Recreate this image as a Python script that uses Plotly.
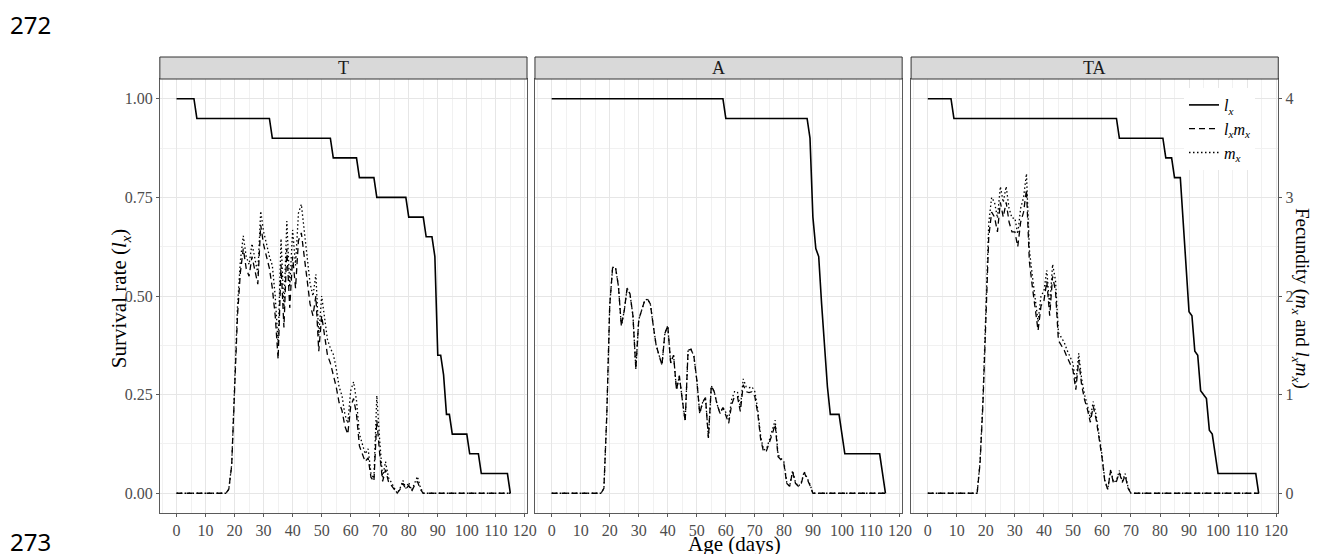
import plotly.graph_objects as go

SERIF = "Liberation Serif"
OFF = 8                      # page body offset of the plot div
W, H = 1325 - OFF, 555 - OFF - 1


def fx(X):
    return (X - OFF) / W


def fy(Y):
    return 1 - (Y - OFF) / H


panel_names = ["T", "A", "TA"]
age_ticks = list(range(0, 121, 10))
surv_ticks = [0.00, 0.25, 0.50, 0.75, 1.00]
fec_ticks = [0, 1, 2, 3, 4]

# ---- survival l_x (vertices of the daily polyline) ----
T_lx_day = [0, 6, 7, 32, 33, 53, 54, 62, 63, 68, 69, 79, 80, 85, 86, 88, 89, 90, 91, 92, 93, 94, 95, 100, 101, 104, 105, 114, 115]
T_lx = [1.00, 1.00, 0.95, 0.95, 0.90, 0.90, 0.85, 0.85, 0.80, 0.80, 0.75, 0.75, 0.70, 0.70, 0.65, 0.65, 0.60, 0.35, 0.35, 0.30, 0.20, 0.20, 0.15, 0.15, 0.10, 0.10, 0.05, 0.05, 0.00]

A_lx_day = [0, 59, 60, 88, 89, 90, 91, 92, 93, 94, 95, 96, 99, 101, 113, 115]
A_lx = [1.00, 1.00, 0.95, 0.95, 0.90, 0.70, 0.62, 0.60, 0.48, 0.36, 0.27, 0.20, 0.20, 0.10, 0.10, 0.00]

TA_lx_day = [0, 8, 9, 65, 66, 81, 82, 84, 85, 87, 90, 91, 92, 93, 94, 95, 96, 97, 98, 100, 113, 114]
TA_lx = [1.00, 1.00, 0.95, 0.95, 0.90, 0.90, 0.85, 0.85, 0.80, 0.80, 0.46, 0.45, 0.36, 0.35, 0.26, 0.25, 0.24, 0.16, 0.15, 0.05, 0.05, 0.00]

# ---- fecundity (daily), T: days 0, 17..85, 115 ----
T_f_day = [0, *range(17, 86), 115]
T_lxmx = [0.00,
          0.00, 0.04, 0.28, 1.04, 1.80, 2.24, 2.48, 2.28, 2.20, 2.40,
          2.24, 2.12, 2.72, 2.52, 2.40, 2.28, 2.08, 1.80, 1.36, 2.32,
          1.68, 2.48, 1.88, 2.40, 2.08, 2.56, 2.64, 2.40, 2.20, 1.92,
          1.80, 2.00, 1.44, 1.80, 1.60, 1.40, 1.32, 1.20, 1.08, 0.92,
          0.84, 0.68, 0.60, 0.88, 0.96, 0.80, 0.48, 0.40, 0.32, 0.36,
          0.16, 0.12, 0.74, 0.40, 0.12, 0.24, 0.12, 0.08, 0.04, 0.00,
          0.04, 0.10, 0.04, 0.08, 0.02, 0.08, 0.12, 0.04, 0.00,
          0.00]
T_mx = [0.00,
        0.00, 0.04, 0.29, 1.09, 1.89, 2.36, 2.61, 2.40, 2.32, 2.53,
        2.36, 2.23, 2.86, 2.65, 2.53, 2.40, 2.31, 2.00, 1.51, 2.58,
        1.87, 2.76, 2.09, 2.67, 2.31, 2.84, 2.93, 2.67, 2.44, 2.13,
        2.00, 2.22, 1.60, 2.00, 1.78, 1.56, 1.47, 1.41, 1.27, 1.08,
        0.99, 0.80, 0.71, 1.04, 1.13, 0.94, 0.60, 0.50, 0.40, 0.45,
        0.20, 0.15, 0.99, 0.53, 0.16, 0.32, 0.16, 0.11, 0.05, 0.00,
        0.05, 0.13, 0.05, 0.11, 0.03, 0.11, 0.17, 0.06, 0.00,
        0.00]

# ---- A: days 0, 17..90, 115 ----
A_f_day = [0, *range(17, 91), 115]
A_lxmx = [0.00,
          0.00, 0.05, 0.80, 1.90, 2.29, 2.29, 2.10, 1.70, 1.85, 2.08,
          2.02, 1.80, 1.26, 1.76, 1.85, 1.95, 1.97, 1.92, 1.70, 1.50,
          1.40, 1.30, 1.62, 1.70, 1.32, 1.40, 1.05, 1.19, 0.95, 0.73,
          1.45, 1.46, 1.39, 1.15, 0.81, 0.92, 0.97, 0.56, 1.09, 1.03,
          0.90, 0.81, 0.87, 0.78, 0.71, 0.90, 0.98, 0.98, 0.83, 1.10,
          1.03, 1.02, 1.03, 0.98, 0.81, 0.55, 0.42, 0.43, 0.51, 0.60,
          0.70, 0.37, 0.34, 0.30, 0.10, 0.07, 0.22, 0.10, 0.07, 0.10,
          0.21, 0.15, 0.08, 0.00,
          0.00]
A_mx = [0.00,
        0.00, 0.05, 0.80, 1.90, 2.29, 2.29, 2.10, 1.70, 1.85, 2.08,
        2.02, 1.80, 1.26, 1.76, 1.85, 1.95, 1.97, 1.92, 1.70, 1.50,
        1.40, 1.30, 1.62, 1.70, 1.32, 1.40, 1.05, 1.19, 0.95, 0.73,
        1.45, 1.46, 1.39, 1.15, 0.81, 0.92, 0.97, 0.56, 1.09, 1.03,
        0.90, 0.81, 0.87, 0.82, 0.75, 0.95, 1.03, 1.03, 0.87, 1.16,
        1.08, 1.07, 1.08, 1.03, 0.85, 0.58, 0.44, 0.45, 0.54, 0.63,
        0.74, 0.39, 0.36, 0.32, 0.11, 0.07, 0.23, 0.11, 0.07, 0.11,
        0.22, 0.16, 0.09, 0.00,
        0.00]

# ---- TA: days 0, 16..70, 114 ----
TA_f_day = [0, *range(16, 71), 114]
TA_lxmx = [0.00,
           0.00, 0.00, 0.30, 0.90, 1.75, 2.60, 2.85, 2.80, 2.65, 2.95,
           2.80, 2.95, 2.75, 2.65, 2.65, 2.50, 2.75, 2.85, 3.08, 2.35,
           2.10, 1.90, 1.65, 1.90, 1.95, 2.15, 1.80, 2.20, 2.05, 1.55,
           1.50, 1.45, 1.38, 1.32, 1.25, 1.05, 1.35, 1.10, 0.95, 0.85,
           0.72, 0.88, 0.75, 0.56, 0.37, 0.12, 0.04, 0.23, 0.10, 0.12,
           0.21, 0.11, 0.18, 0.05, 0.00,
           0.00]
TA_mx = [0.00,
         0.00, 0.00, 0.32, 0.95, 1.84, 2.74, 3.00, 2.95, 2.79, 3.11,
         2.95, 3.11, 2.89, 2.79, 2.79, 2.63, 2.89, 3.00, 3.24, 2.47,
         2.21, 2.00, 1.74, 2.00, 2.05, 2.26, 1.89, 2.32, 2.16, 1.63,
         1.58, 1.53, 1.45, 1.39, 1.32, 1.11, 1.42, 1.16, 1.00, 0.89,
         0.76, 0.93, 0.79, 0.59, 0.39, 0.13, 0.04, 0.24, 0.11, 0.13,
         0.23, 0.12, 0.20, 0.06, 0.00,
         0.00]

panels = [
    (T_lx_day, T_lx, T_f_day, T_lxmx, T_mx),
    (A_lx_day, A_lx, A_f_day, A_lxmx, A_mx),
    (TA_lx_day, TA_lx, TA_f_day, TA_lxmx, TA_mx),
]

# ---- layout geometry (reference pixels) ----
px_x = [(161, 531), (539, 909), (918, 1288)]
plot_top, plot_bot = 79, 513
strip_top = 57
yd = [fy(plot_bot), fy(plot_top)]

fig = go.Figure()
for i, (lxd, lx, fd, lxmx, mx) in enumerate(panels):
    xa = "x" if i == 0 else f"x{i+1}"
    ya = "y" if i == 0 else f"y{i+1}"
    yf = f"y{i+4}"
    show = (i == 0)
    fig.add_trace(go.Scatter(x=lxd, y=lx, xaxis=xa, yaxis=ya, mode="lines",
                             line=dict(color="black", width=1.6),
                             name="<i>l<sub>x</sub></i>", legendgroup="lx",
                             showlegend=show, legendrank=1))
    fig.add_trace(go.Scatter(x=fd, y=lxmx, xaxis=xa, yaxis=yf, mode="lines",
                             line=dict(color="black", width=1.3, dash="6px,4px"),
                             name="<i>l<sub>x</sub>m<sub>x</sub></i>", legendgroup="lxmx",
                             showlegend=show, legendrank=2))
    fig.add_trace(go.Scatter(x=fd, y=mx, xaxis=xa, yaxis=yf, mode="lines",
                             line=dict(color="black", width=1.3, dash="1.5px,2.5px"),
                             name="<i>m<sub>x</sub></i>", legendgroup="mx",
                             showlegend=show, legendrank=3))

axis_common = dict(showline=True, linecolor="#5A5A5A", linewidth=1, mirror=True,
                   zeroline=False, ticks="outside", ticklen=3, tickcolor="#5A5A5A",
                   gridcolor="#E6E6E6", gridwidth=1,
                   tickfont=dict(family=SERIF, size=16, color="#4D4D4D"))

layout = dict(width=W, height=H, margin=dict(l=0, r=0, t=0, b=0),
              paper_bgcolor="white", plot_bgcolor="white", showlegend=True)

for i in range(3):
    x0, x1 = px_x[i]
    xk = "xaxis" if i == 0 else f"xaxis{i+1}"
    yk = "yaxis" if i == 0 else f"yaxis{i+1}"
    ya = "y" if i == 0 else f"y{i+1}"
    xa = "x" if i == 0 else f"x{i+1}"
    layout[xk] = dict(axis_common, domain=[fx(x0), fx(x1)], anchor=ya,
                      range=[-5.75, 120.75], tickvals=age_ticks,
                      minor=dict(dtick=5, tick0=0, showgrid=True, gridcolor="#F1F1F1", gridwidth=0.8))
    ycfg = dict(axis_common, domain=yd, anchor=xa, range=[-0.05, 1.05],
                tickvals=surv_ticks, ticktext=[f"{v:.2f}" for v in surv_ticks],
                minor=dict(dtick=0.125, tick0=0, showgrid=True, gridcolor="#F1F1F1", gridwidth=0.8))
    if i > 0:
        ycfg.update(showticklabels=False, ticks="")
    layout[yk] = ycfg
    fk = f"yaxis{i+4}"
    fcfg = dict(overlaying=ya, anchor=xa, range=[-0.2, 4.2], showgrid=False, zeroline=False)
    if i < 2:
        fcfg.update(visible=False)
    else:
        fcfg.update(side="right", tickvals=fec_ticks, ticks="outside", ticklen=3,
                    tickcolor="#5A5A5A", showline=False,
                    tickfont=dict(family=SERIF, size=16, color="#4D4D4D"))
    layout[fk] = fcfg

shapes = []
annotations = []
for i, name in enumerate(panel_names):
    x0, x1 = px_x[i]
    shapes.append(dict(type="rect", xref="paper", yref="paper",
                       x0=fx(x0), x1=fx(x1), y0=fy(plot_top), y1=fy(strip_top),
                       fillcolor="#D9D9D9", line=dict(color="#333333", width=1), layer="above"))
    annotations.append(dict(text=name, xref="paper", yref="paper",
                            x=fx((x0 + x1) / 2), y=fy((plot_top + strip_top) / 2),
                            showarrow=False, xanchor="center", yanchor="middle",
                            font=dict(family=SERIF, size=18, color="#1A1A1A")))

annotations += [
    dict(text="Age (days)", xref="paper", yref="paper", x=fx(740), y=fy(544),
         showarrow=False, xanchor="center", yanchor="middle",
         font=dict(family=SERIF, size=21, color="black")),
    dict(text="Survival rate (<i>l<sub>x</sub></i>)", xref="paper", yref="paper",
         x=fx(121), y=fy(298), textangle=-90, showarrow=False,
         xanchor="center", yanchor="middle",
         font=dict(family=SERIF, size=21, color="black")),
    dict(text="Fecundity (<i>m<sub>x</sub></i> and <i>l<sub>x</sub>m<sub>x</sub></i>)",
         xref="paper", yref="paper", x=fx(1311), y=fy(298), textangle=90,
         showarrow=False, xanchor="center", yanchor="middle",
         font=dict(family=SERIF, size=19, color="black")),
    dict(text="272", xref="paper", yref="paper", x=fx(31), y=fy(24),
         showarrow=False, xanchor="center", yanchor="middle",
         font=dict(family="Noto Sans", size=24, color="black")),
    dict(text="273", xref="paper", yref="paper", x=fx(31), y=fy(541),
         showarrow=False, xanchor="center", yanchor="middle",
         font=dict(family="Noto Sans", size=24, color="black")),
]

layout["shapes"] = shapes
layout["annotations"] = annotations
layout["legend"] = dict(x=fx(1193), xanchor="left", y=fy(88), yanchor="top",
                        bgcolor="white", borderwidth=0, itemwidth=30,
                        tracegroupgap=0,
                        font=dict(family=SERIF, size=16, color="black"))

fig.update_layout(**layout)
fig.write_html("out.html")
